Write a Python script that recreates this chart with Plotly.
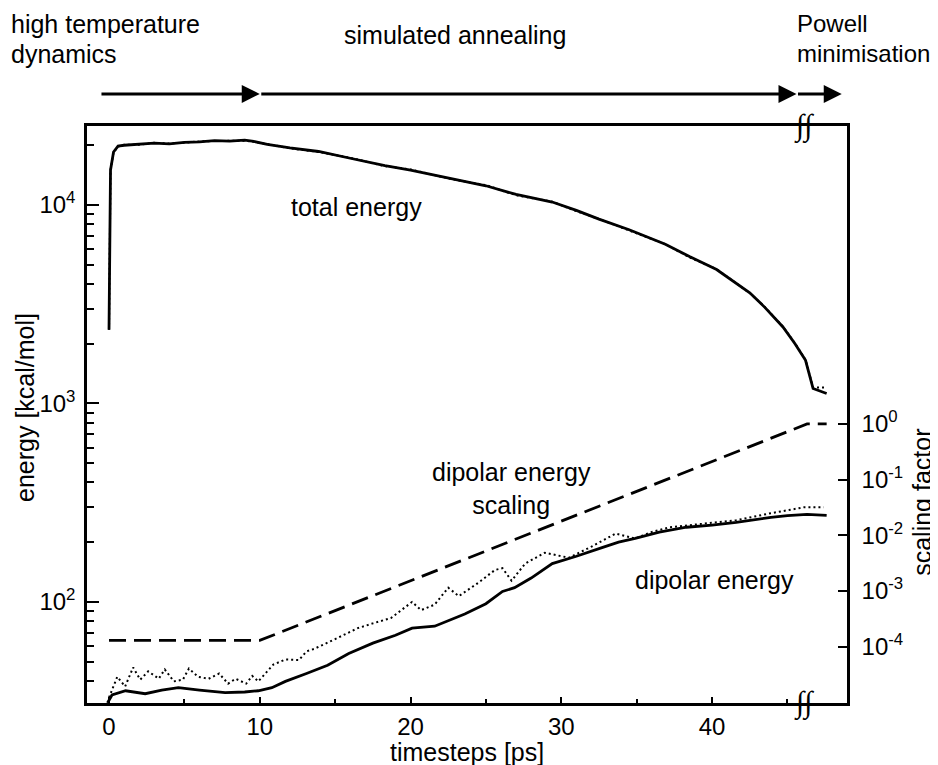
import plotly.graph_objects as go

# ---------------- data ----------------
tot_t = [0.0, 0.1, 0.3, 0.6, 1.0, 2.0, 3.0, 4.0, 5.0, 6.0, 7.0, 8.0, 9.0, 9.6, 10.5, 12.0, 13.9,
         16.0, 18.3, 20.0, 22.7, 25.0, 27.0, 29.4, 31.0, 32.5, 34.5, 36.9, 38.5, 40.3, 42.5, 43.5,
         44.7, 45.5, 46.2, 46.7, 47.6]
tot_e = [2350, 15000, 18500, 19800, 20000, 20200, 20500, 20300, 20700, 20800, 21100, 21000, 21200,
         20900, 20200, 19400, 18600, 17200, 15800, 15000, 13560, 12500, 11300, 10350, 9400, 8490,
         7500, 6340, 5500, 4730, 3610, 3050, 2430, 2000, 1650, 1190, 1123]
tot_dot_e = [2350, 15000, 18400, 19700, 20100, 20100, 20600, 20400, 20600, 20900, 21000, 21100, 21100,
             20800, 20300, 19300, 18500, 17300, 15700, 15100, 13500, 12600, 11200, 10400, 9300, 8500,
             7450, 6350, 5450, 4750, 3600, 3060, 2440, 2010, 1660, 1205, 1205]

dip_t = [-0.1, 0.2, 1.1, 2.4, 3.5, 4.6, 6.0, 7.7, 9.0, 9.9, 10.8, 11.7, 13.1, 14.5, 15.9, 17.5,
         19.0, 20.1, 21.6, 23.6, 25.0, 26.1, 26.9, 28.0, 29.4, 31.0, 32.7, 33.8, 34.9, 36.5, 38.3,
         40.0, 41.6, 43.9, 45.0, 46.3, 47.6]
dip_e = [31, 34, 35.7, 34.5, 36, 37, 36, 34.9, 35.2, 35.7, 37, 39.8, 43.6, 48, 55, 62, 68, 73.8,
         75.5, 87, 98, 113, 118, 132, 156, 170, 188, 200, 209, 225, 238, 244, 252, 267, 272, 276, 273]

dipdot_t = [0.0, 0.55, 1.07, 1.6, 2.07, 2.6, 3.3, 3.7, 4.3, 4.9, 5.3, 5.9, 6.6, 7.3, 7.9, 8.4, 9.1,
            9.5, 9.9, 10.9, 11.7, 12.6, 13.1, 13.6, 15.0, 16.5, 17.5, 18.7, 20.1, 20.7, 21.6, 22.5,
            23.2, 24.5, 25.6, 26.1, 26.7, 27.6, 28.9, 30.5, 32.0, 33.6, 34.9, 36.0, 37.2, 39.5, 41.6,
            43.9, 46.1, 47.4]
dipdot_e = [33, 42, 37.5, 46.8, 40.6, 44.7, 41.1, 45.7, 39.8, 40.6, 46.2, 42, 41, 43.6, 38.8, 41,
            38.8, 42.4, 39.8, 48.4, 51.3, 51, 56.4, 58, 65, 73.8, 78, 83, 100, 91, 97, 118, 107, 125,
            145, 148, 128, 156, 177, 167, 190, 221, 209, 225, 238, 248, 258, 280, 300, 300]

scale_t = [0.0, 10.0, 46.3, 47.6]
scale_v = [1.3e-4, 1.3e-4, 1.0, 1.0]

x_ticks = [0, 10, 20, 30, 40]
x_minor = [5, 15, 25, 35, 45]
y_ticks = [100, 1000, 10000]
y_ticktext = ["10<sup>2</sup>", "10<sup>3</sup>", "10<sup>4</sup>"]
y_minor = [40, 50, 60, 70, 80, 90, 200, 300, 400, 500, 600, 700, 800, 900,
           2000, 3000, 4000, 5000, 6000, 7000, 8000, 9000, 20000]
y2_ticks = [1e-4, 1e-3, 1e-2, 1e-1, 1]
y2_ticktext = ["10<sup>-4</sup>", "10<sup>-3</sup>", "10<sup>-2</sup>", "10<sup>-1</sup>", "10<sup>0</sup>"]

# phase arrow positions (timesteps)
arrow_start = -0.6
phase_ends = [10.0, 45.6, 48.6]

FONT = "Liberation Sans, Arial, sans-serif"
FS = 25
BLACK = "black"

fig = go.Figure()
fig.add_trace(go.Scatter(x=tot_t, y=tot_dot_e, mode="lines",
                         line=dict(color=BLACK, width=2, dash="2px,3px"), yaxis="y"))
fig.add_trace(go.Scatter(x=tot_t, y=tot_e, mode="lines",
                         line=dict(color=BLACK, width=2.8), yaxis="y"))
fig.add_trace(go.Scatter(x=dipdot_t, y=dipdot_e, mode="lines",
                         line=dict(color=BLACK, width=2, dash="2px,3px"), yaxis="y"))
fig.add_trace(go.Scatter(x=dip_t, y=dip_e, mode="lines",
                         line=dict(color=BLACK, width=2.8), yaxis="y"))
fig.add_trace(go.Scatter(x=scale_t, y=scale_v, mode="lines",
                         line=dict(color=BLACK, width=2.8, dash="17px,8px"), yaxis="y2"))

annotations = []
def txt(text, x, y, xanchor="center", yanchor="middle", angle=0, size=FS, family=FONT, align="center"):
    annotations.append(dict(text=text, x=x, y=y, xref="paper", yref="paper", showarrow=False,
                            xanchor=xanchor, yanchor=yanchor, textangle=angle, align=align,
                            borderpad=0,
                            font=dict(family=family, size=size, color=BLACK)))

txt("total energy", 0.355, 0.8596)
txt("dipolar energy<br>scaling", 0.559, 0.371)
txt("dipolar energy", 0.826, 0.213)
txt("timesteps [ps]", 0.50, -0.085)
txt("energy [kcal/mol]", -0.0816, 0.513, angle=-90)
txt("scaling factor", 1.0995, 0.348, angle=-90)
# header (each line separately, top-anchored just inside the page)
txt("high temperature", -0.1015, 1.2025, xanchor="left", yanchor="top")
txt("dynamics", -0.1015, 1.1505, xanchor="left", yanchor="top")
txt("simulated annealing", 0.484, 1.158)
txt("Powell", 0.9335, 1.2025, xanchor="left", yanchor="top", size=24)
txt("minimisation", 0.9335, 1.1505, xanchor="left", yanchor="top", size=24)

# break marks
for yy in (1.0, 0.0):
    annotations.append(dict(text="<i>∫∫</i>", x=46.1, y=yy, xref="x", yref="paper", showarrow=False,
                            xanchor="center", yanchor="middle",
                            font=dict(family="Liberation Serif", size=30, color=BLACK)))

# phase arrows
tails = [arrow_start] + phase_ends[:-1]
for tail, head in zip(tails, phase_ends):
    annotations.append(dict(x=head, y=1.0555, xref="x", yref="paper",
                            ax=tail, ay=0, axref="x", ayref="pixel",
                            showarrow=True, arrowhead=2, arrowsize=1.2, arrowwidth=3,
                            arrowcolor=BLACK, text=""))

axis_common = dict(showline=True, linecolor=BLACK, linewidth=2.5, showgrid=False, zeroline=False,
                   tickcolor=BLACK, tickwidth=2,
                   tickfont=dict(family=FONT, size=24, color=BLACK))

# the page body has an 8px margin, so the figure is made 8px smaller and margins shifted
fig.update_layout(
    width=930, height=757,
    margin=dict(l=79, r=91, t=118, b=62),
    paper_bgcolor="white", plot_bgcolor="white",
    showlegend=False,
    font=dict(family=FONT, color=BLACK),
    xaxis=dict(range=[-1.46, 48.95], tickmode="array", tickvals=x_ticks, ticks="inside", ticklen=6,
               mirror=True, ticklabelstandoff=0,
               minor=dict(tickmode="array", tickvals=x_minor, ticks="inside", ticklen=4,
                          tickwidth=2, tickcolor=BLACK),
               **axis_common),
    yaxis=dict(type="log", range=[1.491, 4.398], tickmode="array", tickvals=y_ticks,
               ticktext=y_ticktext, ticks="inside", ticklen=12, ticklabelstandoff=4,
               minor=dict(tickmode="array", tickvals=y_minor, ticks="inside", ticklen=7,
                          tickwidth=2, tickcolor=BLACK),
               **axis_common),
    yaxis2=dict(type="log", range=[-5.01, 5.35], overlaying="y", side="right", anchor="x",
                tickmode="array", tickvals=y2_ticks, ticktext=y2_ticktext, ticks="inside",
                ticklen=9, ticklabelstandoff=7, **axis_common),
    annotations=annotations,
)

fig.write_html("out.html")
